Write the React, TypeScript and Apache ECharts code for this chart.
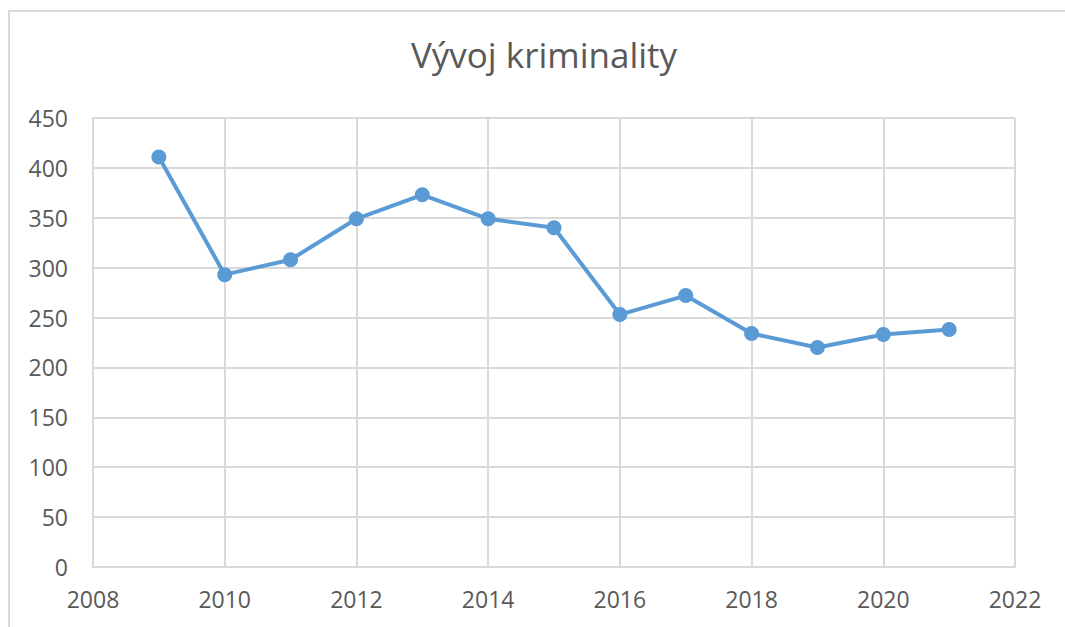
import React, { useEffect, useRef } from "react";
import * as echarts from "echarts";

const titleText = "Vývoj kriminality";
const years = [2009, 2010, 2011, 2012, 2013, 2014, 2015, 2016, 2017, 2018, 2019, 2020, 2021];
const values = [411, 293, 308, 349, 373, 349, 340, 253, 272, 234, 220, 233, 238];
const xMin = 2008;
const xMax = 2022;
const xStep = 2;
const yMin = 0;
const yMax = 450;
const yStep = 50;

export default function App() {
  const ref = useRef<HTMLDivElement>(null);
  useEffect(() => {
    if (!ref.current) return;
    const chart = echarts.init(ref.current, undefined, { renderer: "svg" });
    const font = "'Open Sans', 'Noto Sans', sans-serif";
    chart.setOption({
      animation: false,
      backgroundColor: "#ffffff",
      title: {
        text: titleText,
        left: 539,
        top: 32,
        textAlign: "center",
        textStyle: { color: "#595959", fontSize: 35, fontWeight: "normal", fontFamily: font },
      },
      graphic: [
        {
          type: "rect",
          shape: { x: 9, y: 11, width: 1200, height: 800 },
          style: { fill: "none", stroke: "#d9d9d9", lineWidth: 2 },
          silent: true,
        },
      ],
      grid: { left: 93, top: 118, right: 50, bottom: 60, containLabel: false },
      xAxis: {
        type: "value",
        min: xMin,
        max: xMax,
        interval: xStep,
        axisLine: { show: true, lineStyle: { color: "#d9d9d9", width: 2 } },
        axisTick: { show: false },
        splitLine: { show: true, lineStyle: { color: "#d9d9d9", width: 2 } },
        axisLabel: { color: "#595959", fontSize: 23, fontFamily: font, margin: 20, formatter: (v: number) => String(v) },
      },
      yAxis: {
        type: "value",
        min: yMin,
        max: yMax,
        interval: yStep,
        axisLine: { show: true, lineStyle: { color: "#d9d9d9", width: 2 } },
        axisTick: { show: false },
        splitLine: { show: true, lineStyle: { color: "#d9d9d9", width: 2 } },
        axisLabel: { color: "#595959", fontSize: 23, fontFamily: font, margin: 25 },
      },
      series: [
        {
          type: "line",
          data: years.map((y, i) => [y, values[i]]),
          symbol: "circle",
          symbolSize: 15,
          lineStyle: { color: "#5b9bd5", width: 4 },
          itemStyle: { color: "#5b9bd5" },
        },
      ],
    });
    return () => chart.dispose();
  }, []);
  return <div ref={ref} style={{ position: "absolute", left: 0, top: 0, width: 1065, height: 627 }} />;
}
